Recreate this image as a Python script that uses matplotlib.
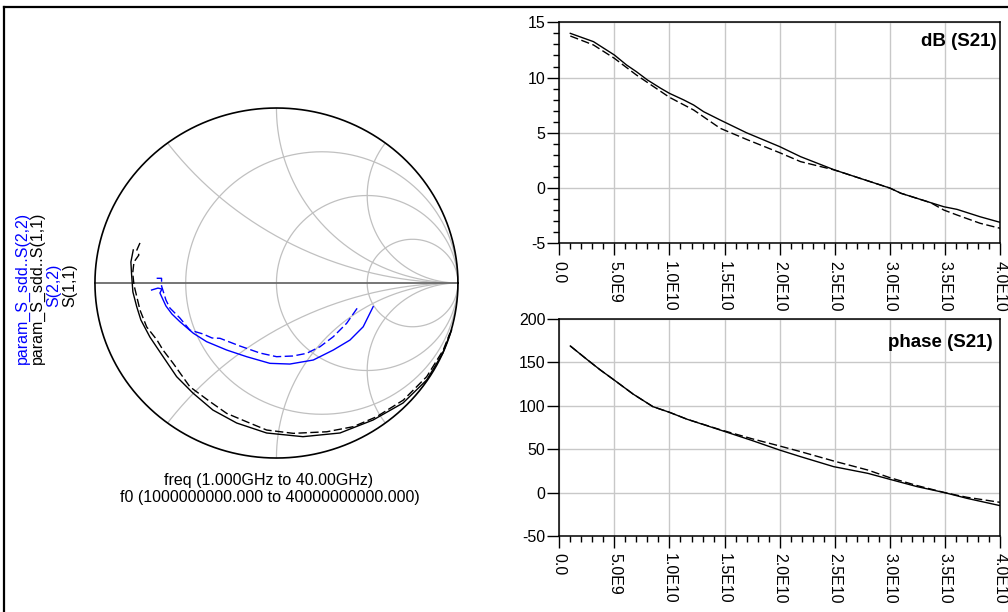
import numpy as np
import matplotlib
matplotlib.use('Agg')
import matplotlib.pyplot as plt
from matplotlib.patches import Circle
from matplotlib.lines import Line2D
from matplotlib.ticker import FixedLocator, MultipleLocator

plt.rcParams['font.family'] = ['Liberation Sans', 'DejaVu Sans']
plt.rcParams['axes.unicode_minus'] = False

# ---------------- data ----------------
# Smith chart traces (reflection coefficient, real / imag)
s11_re = [-0.789, -0.802, -0.798, -0.791, -0.770, -0.747, -0.697, -0.642, -0.550, -0.460,
          -0.350, -0.219, -0.054, 0.146, 0.350, 0.532, 0.697, 0.828, 0.917, 0.965]
s11_im = [0.189, 0.120, 0.046, -0.051, -0.135, -0.211, -0.309, -0.394, -0.535, -0.629,
          -0.726, -0.800, -0.857, -0.878, -0.857, -0.783, -0.686, -0.554, -0.400, -0.269]

p11_re = [-0.752, -0.769, -0.758, -0.785, -0.792, -0.785, -0.752, -0.715, -0.658, -0.625,
          -0.569, -0.477, -0.366, -0.274, -0.164, -0.054, 0.093, 0.277, 0.423, 0.552,
          0.699, 0.828, 0.919, 0.956]
p11_im = [0.229, 0.189, 0.160, 0.120, 0.057, -0.011, -0.154, -0.251, -0.326, -0.383,
          -0.459, -0.593, -0.678, -0.745, -0.793, -0.840, -0.859, -0.850, -0.821, -0.764,
          -0.669, -0.535, -0.383, -0.286]

s22_re = [-0.688, -0.653, -0.631, -0.642, -0.609, -0.576, -0.532, -0.458, -0.385, -0.274,
          -0.164, -0.036, 0.074, 0.203, 0.313, 0.405, 0.478, 0.533]
s22_im = [-0.040, -0.029, -0.034, -0.057, -0.131, -0.177, -0.221, -0.287, -0.335, -0.383,
          -0.421, -0.459, -0.463, -0.440, -0.383, -0.326, -0.250, -0.135]

p22_re = [-0.660, -0.633, -0.633, -0.609, -0.587, -0.532, -0.477, -0.405, -0.355, -0.311,
          -0.201, -0.091, 0.001, 0.091, 0.166, 0.240, 0.313, 0.387, 0.451]
p22_im = [0.027, 0.027, -0.017, -0.097, -0.143, -0.200, -0.269, -0.291, -0.314, -0.316,
          -0.360, -0.400, -0.421, -0.417, -0.402, -0.364, -0.307, -0.230, -0.135]

# dB(S21)
db_f_ghz = [1, 3.1, 5, 6.1, 7, 8, 9.2, 10, 11.3, 12.2, 13.1, 14.6, 17, 20, 21.9, 25,
            27.3, 30, 31, 33.7, 34.9, 36.1, 38.2, 40]
db_s21 = [14.0, 13.25, 12.04, 11.14, 10.53, 9.78, 9.03, 8.57, 7.97, 7.51, 6.91, 6.16,
          5.0, 3.75, 2.84, 1.63, 0.88, 0.0, -0.47, -1.32, -1.69, -1.93, -2.6, -3.1]
dbp_f_ghz = [1, 3.1, 5, 7, 10, 12.2, 14.6, 17, 20, 21.9, 25, 27.3, 30, 31, 33.7, 34.9,
             36.1, 38.2, 40]
db_p21 = [13.76, 12.95, 11.74, 10.23, 8.21, 7.06, 5.41, 4.4, 3.2, 2.39, 1.63, 0.88, 0.0,
          -0.47, -1.32, -1.99, -2.44, -3.19, -3.64]

# phase(S21)
ph_f_ghz = [1, 2.5, 3.7, 5, 6.7, 8.5, 10, 11.6, 14.6, 17.5, 20, 21.9, 24.9, 28, 30, 32.5,
            35, 37, 40]
ph_s21 = [168.9, 153.5, 141.5, 129.5, 113.5, 99.0, 92.5, 84.5, 72.1, 60, 49, 41.4, 29.9,
          22.2, 15.3, 6.8, -0.1, -6.6, -15.0]
ph_p21 = [168.9, 153.5, 141.5, 129.5, 113.5, 99.0, 92.5, 84.5, 72.5, 62, 53.7, 47.2, 36.4,
          26.0, 17.2, 8.0, -0.1, -5.4, -11.2]

x_ticks = [0, 5e9, 1e10, 1.5e10, 2e10, 2.5e10, 3e10, 3.5e10, 4e10]
x_labels = ['0.0', '5.0E9', '1.0E10', '1.5E10', '2.0E10', '2.5E10', '3.0E10', '3.5E10', '4.0E10']
legend_labels = ['param_S_sdd..S(2,2)', 'param_S_sdd..S(1,1)', 'S(2,2)', 'S(1,1)']
legend_colors = ['#0000ff', 'black', '#0000ff', 'black']

BLUE = '#0000ff'
DASH = (0, (6, 2.5))

W, H = 1008, 612
fig = plt.figure(figsize=(W / 100, H / 100), dpi=100)

def fx(px):
    return px / W

def fy(py):
    return 1 - py / H

# ---------------- Smith chart ----------------
ax = fig.add_axes([0.0852, 0.2373, 0.3781, 0.6005])
ax.set_xlim(-1.05, 1.05)
ax.set_ylim(-1.05, 1.05)
ax.axis('off')

th = np.linspace(0, 2 * np.pi, 721)
grid_col = '#c0c0c0'
for r in [1 / 3, 1, 3]:
    c = r / (1 + r)
    rad = 1 / (1 + r)
    ax.plot(c + rad * np.cos(th), rad * np.sin(th), color=grid_col, lw=0.9, zorder=1)
for xv in [0.5, 1, 2]:
    for s in (1, -1):
        ln, = ax.plot(1 + (1 / xv) * np.cos(th), s / xv + (1 / xv) * np.sin(th),
                      color=grid_col, lw=0.9, zorder=1)
        ln.set_clip_path(Circle((0, 0), 1, transform=ax.transData))
ax.plot([-1, 1], [0, 0], color='#6a6a6a', lw=1.3, zorder=2)
ax.plot(np.cos(th), np.sin(th), color='black', lw=1.2, zorder=3)

ax.plot(p22_re, p22_im, color=BLUE, lw=1.0, linestyle=DASH, zorder=4)
ax.plot(p11_re, p11_im, color='black', lw=1.0, linestyle=DASH, zorder=4)
ax.plot(s22_re, s22_im, color=BLUE, lw=1.0, zorder=5)
ax.plot(s11_re, s11_im, color='black', lw=1.0, zorder=5)

# legend (rotated)
leg_x = [22, 37, 54, 70]
leg_y = [288, 288, 285, 285]
for lab, col, lx, ly in zip(legend_labels, legend_colors, leg_x, leg_y):
    fig.text(fx(lx), fy(ly), lab, color=col, rotation=90, ha='center', va='center',
             fontsize=11.5)

fig.text(fx(269), fy(481), 'freq (1.000GHz to 40.00GHz)', ha='center', va='center',
         fontsize=11.5)
fig.text(fx(269.5), fy(497.5), 'f0 (1000000000.000 to 40000000000.000)', ha='center',
         va='center', fontsize=11.5)

# ---------------- rectangular plots ----------------
def setup(a, ylim, yticks, yminor):
    a.set_xlim(0, 4e10)
    a.set_ylim(*ylim)
    a.xaxis.set_major_locator(FixedLocator(x_ticks))
    a.set_xticklabels(x_labels, rotation=-90)
    a.xaxis.set_minor_locator(MultipleLocator(1e9))
    a.yaxis.set_major_locator(FixedLocator(yticks))
    if yminor:
        a.yaxis.set_minor_locator(MultipleLocator(yminor))
    a.grid(True, which='major', color='#c8c8c8', lw=1.0)
    a.set_axisbelow(True)
    a.tick_params(which='major', length=8.5, width=1, direction='out', labelsize=11.5,
                  colors='black')
    a.tick_params(which='minor', length=4.5, width=1, direction='out')
    a.tick_params(axis='x', which='major', pad=4)
    a.tick_params(axis='y', which='major', pad=1.5)
    a.tick_params(top=False, right=False)
    for sp in a.spines.values():
        sp.set_color('black')
        sp.set_linewidth(1.1)

ax1 = fig.add_axes([559.3 / W, 1 - 243.3 / H, 440.7 / W, 221 / H])
setup(ax1, (-5, 15), [-5, 0, 5, 10, 15], 1)
ax1.plot(np.array(dbp_f_ghz) * 1e9, db_p21, color='black', lw=1.0, linestyle=DASH)
ax1.plot(np.array(db_f_ghz) * 1e9, db_s21, color='black', lw=1.0)
ax1.text(0.9925, 0.915, 'dB (S21)', transform=ax1.transAxes, ha='right', va='center',
         fontweight='bold', fontsize=13.5)

ax2 = fig.add_axes([559.3 / W, 1 - 536 / H, 440.7 / W, 217 / H])
setup(ax2, (-50, 200), [-50, 0, 50, 100, 150, 200], None)
ax2.plot(np.array(ph_f_ghz) * 1e9, ph_p21, color='black', lw=1.0, linestyle=DASH)
ax2.plot(np.array(ph_f_ghz) * 1e9, ph_s21, color='black', lw=1.0)
ax2.text(0.984, 0.894, 'phase (S21)', transform=ax2.transAxes, ha='right', va='center',
         fontweight='bold', fontsize=13.5)

# outer frame
fig.add_artist(Line2D([fx(4), fx(4)], [0, fy(7)], transform=fig.transFigure,
                      color='black', lw=1.6))
fig.add_artist(Line2D([fx(4), 1], [fy(7), fy(7)], transform=fig.transFigure,
                      color='black', lw=1.6))

fig.savefig('out.png', dpi=100)
